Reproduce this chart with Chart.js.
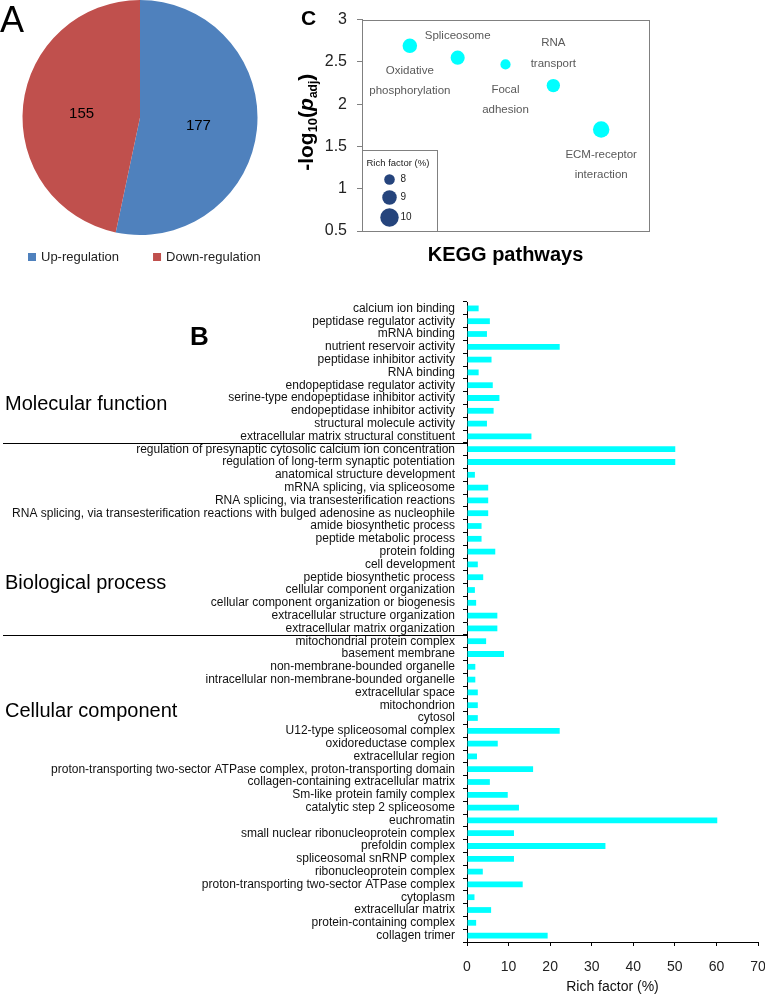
<!DOCTYPE html>
<html>
<head>
<meta charset="utf-8">
<script src="https://cdn.jsdelivr.net/npm/chart.js@4.4.1/dist/chart.umd.min.js"></script>
<style>
  body { margin: 0; background: #fff; width: 765px; height: 996px; position: relative; overflow: hidden; }
  .panel { position: absolute; }
</style>
</head>
<body>
<div class="panel" style="left:0;top:0;width:280px;height:272px"><canvas id="pieChart"></canvas></div>
<div class="panel" style="left:0;top:270px;width:765px;height:726px"><canvas id="barChart"></canvas></div>
<div class="panel" style="left:280px;top:0;width:380px;height:275px"><canvas id="bubbleChart"></canvas></div>
<script>
const FONT = "'Liberation Sans', Arial, sans-serif";
Chart.defaults.font.family = FONT;
Chart.defaults.animation = false;

// Panel A - regulated proteins
const regLabels = ['Up-regulation', 'Down-regulation'];
const regCounts = [177, 155];

// Panel C - KEGG pathways
const keggPathways = ['Oxidative phosphorylation', 'Spliceosome', 'Focal adhesion', 'RNA transport', 'ECM-receptor interaction'];
const keggLogPadj = [2.69, 2.55, 2.47, 2.22, 1.70];
const keggRichFactor = [9.0, 8.9, 7.9, 8.7, 9.5];
const richLegendValues = [8, 9, 10];

// Panel B - GO terms
const goGroups = ['Molecular function', 'Biological process', 'Cellular component'];
const goGroupSizes = [11, 15, 24];
const goTerms = [
  'calcium ion binding', 'peptidase regulator activity', 'mRNA binding', 'nutrient reservoir activity',
  'peptidase inhibitor activity', 'RNA binding', 'endopeptidase regulator activity',
  'serine-type endopeptidase inhibitor activity', 'endopeptidase inhibitor activity',
  'structural molecule activity', 'extracellular matrix structural constituent',
  'regulation of presynaptic cytosolic calcium ion concentration', 'regulation of long-term synaptic potentiation',
  'anatomical structure development', 'mRNA splicing, via spliceosome', 'RNA splicing, via transesterification reactions',
  'RNA splicing, via transesterification reactions with bulged adenosine as nucleophile',
  'amide biosynthetic process', 'peptide metabolic process', 'protein folding', 'cell development',
  'peptide biosynthetic process', 'cellular component organization', 'cellular component organization or biogenesis',
  'extracellular structure organization', 'extracellular matrix organization',
  'mitochondrial protein complex', 'basement membrane', 'non-membrane-bounded organelle',
  'intracellular non-membrane-bounded organelle', 'extracellular space', 'mitochondrion', 'cytosol',
  'U12-type spliceosomal complex', 'oxidoreductase complex', 'extracellular region',
  'proton-transporting two-sector ATPase complex, proton-transporting domain',
  'collagen-containing extracellular matrix', 'Sm-like protein family complex', 'catalytic step 2 spliceosome',
  'euchromatin', 'small nuclear ribonucleoprotein complex', 'prefoldin complex', 'spliceosomal snRNP complex',
  'ribonucleoprotein complex', 'proton-transporting two-sector ATPase complex', 'cytoplasm',
  'extracellular matrix', 'protein-containing complex', 'collagen trimer'
];
const goRichFactor = [
  2.8, 5.5, 4.8, 22.3, 5.9, 2.8, 6.2, 7.8, 6.4, 4.8, 15.5,
  50.1, 50.1, 1.9, 5.1, 5.1, 5.1, 3.5, 3.5, 6.8, 2.6, 3.9, 1.9, 2.2, 7.3, 7.3,
  4.6, 8.9, 2.0, 2.0, 2.6, 2.6, 2.6, 22.3, 7.4, 2.4, 15.9, 5.5, 9.8, 12.5,
  60.2, 11.3, 33.3, 11.3, 3.8, 13.4, 1.8, 5.8, 2.2, 19.4
];

// ---------- Panel A: pie ----------
const pieColors = ['#4F81BD', '#C0504D'];

const piePlugin = {
  id: 'pieExtras',
  afterDraw(chart) {
    const ctx = chart.ctx;
    ctx.save();
    // counts inside slices
    ctx.font = '15px ' + FONT;
    ctx.fillStyle = '#000';
    ctx.textAlign = 'center';
    ctx.textBaseline = 'middle';
    chart.getDatasetMeta(0).data.forEach((arc, i) => {
      const p = arc.tooltipPosition();
      ctx.fillText(String(regCounts[i]), p.x, p.y + 2);
    });
    // legend
    ctx.font = '13px ' + FONT;
    ctx.textAlign = 'left';
    let x = 28;
    const y = 257;
    regLabels.forEach((lab, i) => {
      ctx.fillStyle = pieColors[i];
      ctx.fillRect(x, y - 4, 8, 8);
      ctx.fillStyle = '#222';
      ctx.fillText(lab, x + 13, y);
      x += 13 + ctx.measureText(lab).width + 34;
    });
    // panel letter
    ctx.font = '36px ' + FONT;
    ctx.fillStyle = '#000';
    ctx.textBaseline = 'alphabetic';
    ctx.fillText('A', 0, 32);
    ctx.restore();
  }
};

new Chart(document.getElementById('pieChart'), {
  type: 'pie',
  data: {
    labels: regLabels,
    datasets: [{ data: regCounts, backgroundColor: pieColors, borderWidth: 0 }]
  },
  options: {
    responsive: true,
    maintainAspectRatio: false,
    layout: { padding: { bottom: 37 } },
    plugins: { legend: { display: false }, tooltip: { enabled: false } }
  },
  plugins: [piePlugin]
});

// ---------- Panel C: bubble ----------
function bubbleRadius(rf) {
  return 5.3 + (rf - 8) * 1.95;
}

const bubblePlugin = {
  id: 'bubbleExtras',
  afterDraw(chart) {
    const ctx = chart.ctx;
    const area = chart.chartArea;
    ctx.save();
    // frame
    ctx.strokeStyle = '#808080';
    ctx.lineWidth = 1;
    ctx.strokeRect(Math.round(area.left) + 0.5, Math.round(area.top) + 0.5,
      Math.round(area.right - area.left), Math.round(area.bottom - area.top));

    // pathway labels
    ctx.font = '11.5px ' + FONT;
    ctx.fillStyle = '#595959';
    ctx.textAlign = 'center';
    ctx.textBaseline = 'middle';
    const below = [true, false, true, false, true];
    chart.getDatasetMeta(0).data.forEach((pt, i) => {
      const lines = keggPathways[i].split(' ');
      lines.forEach((line, j) => {
        const y = below[i] ? pt.y + 25 + j * 20 : pt.y - 22 - (lines.length - 1 - j) * 21;
        ctx.fillText(line, pt.x, y);
      });
    });

    // rich factor legend
    const lx = Math.round(area.left) + 0.5;
    const ly = Math.round(area.bottom) - 81 + 0.5;
    ctx.strokeRect(lx, ly, 75, 81);
    ctx.fillStyle = '#222';
    ctx.textAlign = 'left';
    ctx.font = '9.5px ' + FONT;
    ctx.fillText('Rich factor (%)', lx + 4, ly + 13);
    const legendY = [29, 47, 67];
    richLegendValues.forEach((v, i) => {
      ctx.beginPath();
      ctx.arc(lx + 27, ly + legendY[i], bubbleRadius(v), 0, Math.PI * 2);
      ctx.fillStyle = '#25447c';
      ctx.fill();
      ctx.fillStyle = '#222';
      ctx.font = '10px ' + FONT;
      ctx.fillText(String(v), lx + 38, ly + legendY[i]);
    });

    // axis title, rotated with subscripts
    const pieces = [
      { t: '-log', f: 'bold 21px ' + FONT, dy: 0 },
      { t: '10', f: 'bold 13px ' + FONT, dy: 4 },
      { t: '(', f: 'bold 21px ' + FONT, dy: 0 },
      { t: 'p', f: 'italic bold 21px ' + FONT, dy: 0 },
      { t: 'adj', f: 'bold 12px ' + FONT, dy: 4 },
      { t: ')', f: 'bold 21px ' + FONT, dy: 0 }
    ];
    let total = 0;
    pieces.forEach(p => { ctx.font = p.f; p.w = ctx.measureText(p.t).width; total += p.w; });
    ctx.translate(33, (area.top + area.bottom) / 2 - 3);
    ctx.rotate(-Math.PI / 2);
    ctx.fillStyle = '#000';
    ctx.textBaseline = 'alphabetic';
    let px = -total / 2;
    pieces.forEach(p => { ctx.font = p.f; ctx.fillText(p.t, px, p.dy); px += p.w; });
    ctx.setTransform(chart.currentDevicePixelRatio, 0, 0, chart.currentDevicePixelRatio, 0, 0);

    // x title and panel letter
    ctx.font = 'bold 20px ' + FONT;
    ctx.textAlign = 'center';
    ctx.textBaseline = 'middle';
    ctx.fillText('KEGG pathways', (area.left + area.right) / 2, 255);
    ctx.font = 'bold 21px ' + FONT;
    ctx.textAlign = 'left';
    ctx.textBaseline = 'alphabetic';
    ctx.fillText('C', 21, 25);
    ctx.restore();
  }
};

new Chart(document.getElementById('bubbleChart'), {
  type: 'bubble',
  data: {
    datasets: [{
      data: keggPathways.map((p, i) => ({ x: i + 1, y: keggLogPadj[i], r: bubbleRadius(keggRichFactor[i]) })),
      backgroundColor: '#00FFFF',
      borderWidth: 0
    }]
  },
  options: {
    responsive: true,
    maintainAspectRatio: false,
    layout: { padding: { top: 10, right: 11, left: 0, bottom: 0 } },
    plugins: { legend: { display: false }, tooltip: { enabled: false } },
    scales: {
      x: {
        type: 'linear', min: 0, max: 6,
        ticks: { display: false },
        grid: { display: false },
        border: { display: false },
        afterFit: s => { s.height = 44; }
      },
      y: {
        min: 0.5, max: 3,
        ticks: { stepSize: 0.5, color: '#222', font: { size: 16 }, padding: 10,
          callback: v => String(+v.toFixed(1)) },
        grid: { drawOnChartArea: false, tickLength: 5, color: '#808080' },
        border: { color: '#808080' },
        afterFit: s => { s.width = 82; }
      }
    }
  },
  plugins: [bubblePlugin]
});

// ---------- Panel B: GO bars ----------
const barPlugin = {
  id: 'goExtras',
  afterDraw(chart) {
    const ctx = chart.ctx;
    const yScale = chart.scales.y;
    const area = chart.chartArea;
    ctx.save();
    // dividers between GO groups
    ctx.strokeStyle = '#000';
    ctx.lineWidth = 1;
    let count = 0;
    goGroupSizes.slice(0, -1).forEach(n => {
      count += n;
      const y = Math.round(yScale.getPixelForValue(count - 0.5)) + 0.5;
      ctx.beginPath();
      ctx.moveTo(3, y);
      ctx.lineTo(area.left, y);
      ctx.stroke();
    });
    // group names
    const groupLabelAt = [7.5, 21.5, 31.5];
    ctx.font = '20px ' + FONT;
    ctx.fillStyle = '#000';
    ctx.textAlign = 'left';
    ctx.textBaseline = 'middle';
    goGroups.forEach((g, i) => ctx.fillText(g, 5, yScale.getPixelForValue(groupLabelAt[i])));
    // panel letter
    ctx.font = 'bold 26px ' + FONT;
    ctx.textBaseline = 'alphabetic';
    ctx.fillText('B', 190, 75);
    ctx.restore();
  }
};

new Chart(document.getElementById('barChart'), {
  type: 'bar',
  data: {
    labels: goTerms,
    datasets: [{
      data: goRichFactor,
      backgroundColor: '#00FFFF',
      borderWidth: 0,
      categoryPercentage: 1,
      barPercentage: 0.45
    }]
  },
  options: {
    indexAxis: 'y',
    responsive: true,
    maintainAspectRatio: false,
    layout: { padding: { top: 32, right: 7, left: 0, bottom: 0 } },
    plugins: { legend: { display: false }, tooltip: { enabled: false } },
    scales: {
      y: {
        ticks: { autoSkip: false, color: '#111', font: { size: 12 }, padding: 8 },
        grid: { drawOnChartArea: false, tickLength: 4, color: '#000', offset: true },
        border: { color: '#000' },
        afterFit: s => { s.width = 467; }
      },
      x: {
        min: 0, max: 70,
        ticks: { stepSize: 10, color: '#222', font: { size: 14 }, padding: 13 },
        grid: { drawOnChartArea: false, tickLength: 4, color: '#000' },
        border: { color: '#000' },
        title: { display: true, text: 'Rich factor (%)', color: '#111', font: { size: 14 }, padding: { top: 0, bottom: 0 } },
        afterFit: s => { s.height = 54; s.paddingRight = 0; }
      }
    }
  },
  plugins: [barPlugin]
});
</script>
</body>
</html>
